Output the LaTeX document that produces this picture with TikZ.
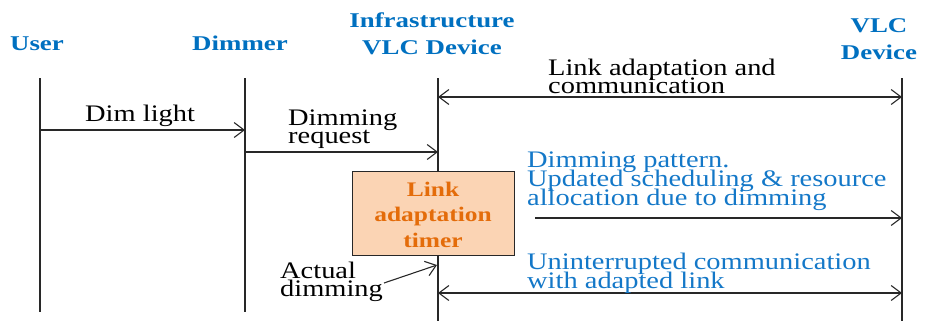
\documentclass[tikz,border=0pt]{standalone}
\usepackage{fontspec}
\usepackage{graphicx}
\setmainfont{Liberation Serif}
\usetikzlibrary{arrows.meta}
\definecolor{hdrblue}{RGB}{0,112,192}
\definecolor{msgblue}{RGB}{20,120,200}
\definecolor{timerorange}{RGB}{228,108,10}
\definecolor{timerfill}{RGB}{251,212,180}
\definecolor{inkgray}{RGB}{40,40,40}
\newcommand\sxt[1]{\scalebox{1.2}[1]{#1}}
\newcommand\hxt[1]{\scalebox{1.28}[1]{#1}}
\newcommand\bxt[1]{\scalebox{1.23}[1]{#1}}
\newcommand\tightlines{\lineskiplimit=-50pt\relax}
\tikzset{
  hdr/.style={text=hdrblue, inner sep=0pt, align=center, anchor=base,
    font={\fontsize{21}{27}\selectfont\bfseries\tightlines}},
  lbl/.style={text=black, inner sep=0pt, align=left, anchor=base west,
    font={\fontsize{23.7}{18}\selectfont\tightlines}},
  bluelbl/.style={lbl, text=msgblue,
    font={\fontsize{23.7}{19}\selectfont\tightlines}},
  lifeline/.style={draw=inkgray, line width=1.1pt},
  msg/.style={draw=inkgray, line width=1.1pt, -{Straight Barb[length=10pt,width=15pt]}},
  bimsg/.style={draw=inkgray, line width=1.1pt, {Straight Barb[length=10pt,width=15pt]}-{Straight Barb[length=10pt,width=15pt]}},
  timerbox/.style={draw=inkgray, line width=1pt, fill=timerfill, minimum width=162pt, minimum height=84pt, inner sep=0pt}
}
\begin{document}
\begin{tikzpicture}[x=1pt, y=-1pt]
\useasboundingbox (0,0) rectangle (925,322);
% headers (base anchor = baseline of last line)
\node[hdr] (huser) at (37,50) {\hxt{User}};
\node[hdr] (hdim) at (240,50) {\hxt{Dimmer}};
\node[hdr] (hinfra) at (432,54) {\hxt{Infrastructure}\\\hxt{VLC Device}};
\node[hdr] (hvlc) at (879,59) {\hxt{VLC}\\\hxt{Device}};
% lifelines
\coordinate (ut) at (40,78);  \coordinate (ub) at (40,312);
\coordinate (dt) at (245,78); \coordinate (db) at (245,312);
\coordinate (it) at (438,78); \coordinate (ib) at (438,321);
\coordinate (vt) at (902,78); \coordinate (vb) at (902,321);
\draw[lifeline] (ut) -- (ub);
\draw[lifeline] (dt) -- (db);
\draw[lifeline] (it) -- (ib);
\draw[lifeline] (vt) -- (vb);
% message endpoints
\coordinate (u1) at (40,130);  \coordinate (d1) at (245,130);
\coordinate (d2) at (245,152); \coordinate (i2) at (438,152);
\coordinate (i3) at (438,97);  \coordinate (v3) at (902,97);
\coordinate (p4) at (535,218); \coordinate (v4) at (902,218);
\coordinate (i5) at (438,293); \coordinate (v5) at (902,293);
\coordinate (a6) at (384,283); \coordinate (i6) at (437,265);
\draw[msg] (u1) -- (d1);
\draw[msg] (d2) -- (i2);
\draw[bimsg] (i3) -- (v3);
\draw[msg] (p4) -- (v4);
\draw[bimsg] (i5) -- (v5);
\draw[msg] (a6) -- (i6);
% labels
\node[lbl] (ldim) at (85,121) {\sxt{Dim light}};
\node[lbl] (lreq) at (288,143) {\sxt{Dimming}\\\sxt{request}};
\node[lbl] (llink) at (548,93) {\sxt{Link adaptation and}\\\sxt{communication}};
\node[bluelbl] (lpat) at (527,205) {\sxt{Dimming pattern.}\\\sxt{Updated scheduling \& resource}\\\sxt{allocation due to dimming}};
\node[bluelbl] (lunint) at (527,288) {\sxt{Uninterrupted communication}\\\sxt{with adapted link}};
\node[lbl] (lact) at (280,296) {\sxt{Actual}\\\sxt{dimming}};
% timer box
\node[timerbox] (timer) at (433,213) {};
\node[text=timerorange, inner sep=0pt, align=center, anchor=base,
  font={\fontsize{20.7}{25.5}\selectfont\bfseries\tightlines}]
  (ttimer) at (433,247) {\bxt{Link}\\\bxt{adaptation}\\\bxt{timer}};
\end{tikzpicture}
\end{document}
